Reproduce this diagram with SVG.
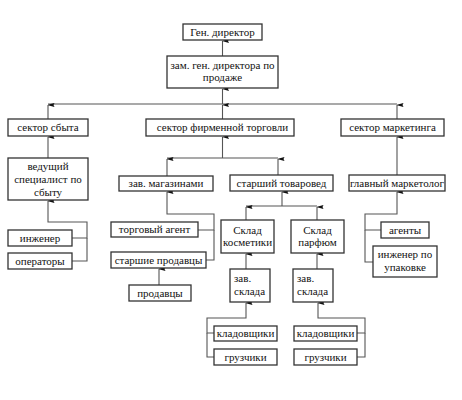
<svg xmlns="http://www.w3.org/2000/svg" width="462" height="400" viewBox="0 0 462 400">
<style>
rect{fill:#fff;stroke:#333;stroke-width:1.3}
text{font-family:"Liberation Serif","Times New Roman",serif;font-size:11px;fill:#111;text-anchor:middle}
.l{fill:none;stroke:#555;stroke-width:1.1}
.a{marker-end:url(#ah)}
</style>
<defs>
<marker id="ah" markerWidth="4" markerHeight="8" refX="2" refY="0.5" orient="auto" markerUnits="userSpaceOnUse" viewBox="0 0 4 8">
<path d="M2,0 L4,7 L2,6 L0,7 Z" fill="#111"/>
</marker>
</defs>
<rect width="462" height="400" style="stroke:none"/>
<g id="connectors">
<line class="l a" x1="222.5" y1="56" x2="222.5" y2="41"/>
<line class="l a" x1="222.5" y1="104" x2="222.5" y2="89"/>
<line class="l" x1="48" y1="104" x2="397" y2="104"/>
<line class="l a" x1="48" y1="119" x2="48" y2="105"/>
<line class="l a" x1="222.5" y1="119" x2="222.5" y2="105"/>
<line class="l a" x1="397" y1="119" x2="397" y2="105"/>
<line class="l a" x1="48" y1="158" x2="48" y2="137"/>
<line class="l a" x1="222.5" y1="158" x2="222.5" y2="137"/>
<line class="l" x1="167" y1="158" x2="278" y2="158"/>
<line class="l a" x1="167" y1="176" x2="167" y2="159"/>
<line class="l a" x1="278" y1="175" x2="278" y2="159"/>
<line class="l a" x1="397" y1="175" x2="397" y2="137"/>
<polyline class="l a" points="72,238 87,238 87,222 48,222 48,201"/>
<polyline class="l" points="72,261 87,261 87,238"/>
<polyline class="l a" points="198,230 214,230 214,214 167,214 167,192"/>
<polyline class="l" points="206,260 214,260 214,230"/>
<line class="l a" x1="159" y1="285" x2="159" y2="269"/>
<line class="l a" x1="282" y1="206" x2="282" y2="192"/>
<line class="l" x1="246" y1="206" x2="317" y2="206"/>
<line class="l a" x1="246" y1="220" x2="246" y2="207"/>
<line class="l a" x1="317" y1="220" x2="317" y2="207"/>
<line class="l a" x1="246" y1="269" x2="246" y2="254"/>
<line class="l a" x1="317" y1="269" x2="317" y2="254"/>
<polyline class="l a" points="214,333 207,333 207,318 246,318 246,303"/>
<polyline class="l" points="214,357 207,357 207,333"/>
<polyline class="l a" points="357,333 365,333 365,318 318,318 318,303"/>
<polyline class="l" points="357,357 365,357 365,333"/>
<polyline class="l a" points="381,230 365,230 365,214 397,214 397,192"/>
<polyline class="l" points="373,262 365,262 365,230"/>
</g>
<g id="gen"><rect x="183" y="24" width="79" height="16"/><text x="222.5" y="36">Ген. директор</text></g>
<g id="zam"><rect x="167" y="56" width="111" height="32"/><text x="222.5" y="69">зам. ген. директора по</text><text x="222.5" y="81">продаже</text></g>
<g id="sbyt"><rect x="8" y="119" width="80" height="17"/><text x="48" y="131">сектор сбыта</text></g>
<g id="firm"><rect x="146" y="119" width="148" height="17"/><text x="222.5" y="131">сектор фирменной торговли</text></g>
<g id="mark"><rect x="341" y="119" width="103" height="17"/><text x="392.5" y="131">сектор маркетинга</text></g>
<g id="ved"><rect x="8" y="158" width="80" height="42"/><text x="48" y="170">ведущий</text><text x="48" y="183">специалист по</text><text x="48" y="196">сбыту</text></g>
<g id="inzh"><rect x="8" y="230" width="64" height="16"/><text x="40" y="242">инженер</text></g>
<g id="oper"><rect x="8" y="253" width="64" height="16"/><text x="40" y="265">операторы</text></g>
<g id="zavmag"><rect x="119" y="176" width="94" height="15"/><text x="166" y="187">зав.  магазинами</text></g>
<g id="tovar"><rect x="230" y="175" width="103" height="16"/><text x="281.5" y="187">старший товаровед</text></g>
<g id="glmark"><rect x="349" y="175" width="96" height="16"/><text x="397" y="187">главный маркетолог</text></g>
<g id="agent"><rect x="111" y="222" width="87" height="15"/><text x="154.5" y="233">торговый агент</text></g>
<g id="stprod"><rect x="111" y="252" width="95" height="16"/><text x="158.5" y="264">старшие продавцы</text></g>
<g id="prod"><rect x="129" y="285" width="62" height="16"/><text x="160" y="297">продавцы</text></g>
<g id="sklad1"><rect x="221" y="220" width="53" height="33"/><text x="247.5" y="234">Склад</text><text x="247.5" y="246">косметики</text></g>
<g id="sklad2"><rect x="291" y="220" width="53" height="33"/><text x="317.5" y="234">Склад</text><text x="317.5" y="246">парфюм</text></g>
<g id="zavskl1"><rect x="230" y="269" width="40" height="33"/><text x="234" y="282" style="text-anchor:start">зав.</text><text x="234" y="295" style="text-anchor:start">склада</text></g>
<g id="zavskl2"><rect x="293" y="269" width="40" height="33"/><text x="297" y="282" style="text-anchor:start">зав.</text><text x="297" y="295" style="text-anchor:start">склада</text></g>
<g id="klad1"><rect x="214" y="326" width="63" height="15"/><text x="245.5" y="337">кладовщики</text></g>
<g id="gruz1"><rect x="214" y="349" width="63" height="16"/><text x="245.5" y="361">грузчики</text></g>
<g id="klad2"><rect x="294" y="326" width="63" height="15"/><text x="325.5" y="337">кладовщики</text></g>
<g id="gruz2"><rect x="294" y="349" width="63" height="16"/><text x="325.5" y="361">грузчики</text></g>
<g id="agenty"><rect x="381" y="222" width="48" height="16"/><text x="405" y="234">агенты</text></g>
<g id="upak"><rect x="373" y="246" width="64" height="31"/><text x="405" y="258">инженер по</text><text x="405" y="271">упаковке</text></g>
</svg>
